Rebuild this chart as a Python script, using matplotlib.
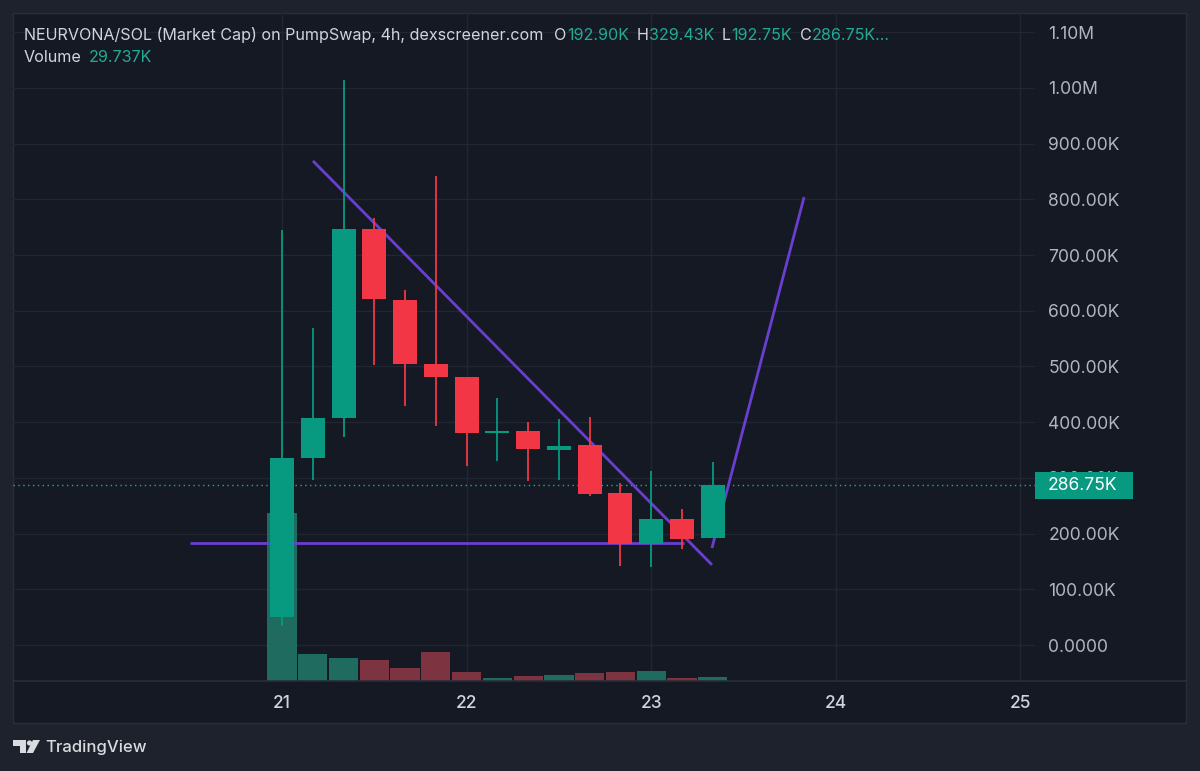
import numpy as np
import matplotlib
matplotlib.use("Agg")
import matplotlib.pyplot as plt
from matplotlib.patches import Rectangle, Polygon, Circle
from matplotlib.transforms import Affine2D, blended_transform_factory
from matplotlib.ticker import FuncFormatter

plt.rcParams["font.family"] = ["Inter", "DejaVu Sans"]

# 4h candles, market cap in K, first bar at day 21 00:00
first_day = 21
bar_hours = 4
opens = [50, 335, 407, 747, 620, 505, 481, 381, 385, 350, 359, 273, 181, 226, 192.90]
highs = [745, 570, 1015, 767, 637, 842, 482, 443, 400, 405, 410, 291, 312, 244, 329.43]
lows = [35, 296, 373, 503, 429, 393, 321, 330, 294, 296, 268, 142, 140, 172, 192.75]
closes = [335, 407, 747, 621, 505, 481, 381, 385, 352, 357, 271, 181, 226, 190, 286.75]
volumes = [1236, 200, 170, 155, 96, 215, 67, 22, 37, 44, 59, 67, 74, 22, 29.737]

# hand drawn lines (day, market cap K)
support_x = [20.502, 23.18]
support_y = [183, 183]
down_x = [21.168, 23.329]
down_y = [869, 144]
up_x = [23.329, 23.828]
up_y = [174, 804]

day_ticks = [21, 22, 23, 24, 25]
price_ticks = np.arange(0, 1200, 100)

BG_OUT = "#1e222d"
BG_PANE = "#151924"
GRID = "#222631"
BORDER = "#2a2e39"
TXT = "#d1d4dc"
AXTXT = "#b2b5be"
UP = "#089981"
DOWN = "#f23645"
UP_TXT = "#22ab94"
VOL_UP = "#1f6b60"
VOL_DOWN = "#7d3340"
LINE = "#6a3fd0"

W, H = 1200, 771
fig = plt.figure(figsize=(W / 100, H / 100), dpi=100)
fig.patch.set_facecolor(BG_OUT)
px = Affine2D().scale(1 / W, -1 / H).translate(0, 1) + fig.transFigure

# chart pane
fig.add_artist(Rectangle((13, 13), 1173, 710, transform=px, fc=BG_PANE, ec=BORDER, lw=1, zorder=0))
fig.add_artist(plt.Line2D([13, 1186], [681, 681], transform=px, color=BORDER, lw=1.2, zorder=1))

left, right, top, bottom = 13, 1035, 13, 681
ax = fig.add_axes([left / W, 1 - bottom / H, (right - left) / W, (bottom - top) / H])
ax.set_facecolor("none")
for s in ax.spines.values():
    s.set_visible(False)

ax.set_xlim(19.543, 25.079)
ylo, yhi = -64.6, 1134.6
ax.set_ylim(ylo, yhi)

t = first_day + np.arange(len(opens)) * bar_hours / 24
o, h, l, c = map(np.array, (opens, highs, lows, closes))
up = c >= o
col = np.where(up, UP, DOWN)
vcol = np.where(up, VOL_UP, VOL_DOWN)

# volume overlay in the bottom quarter of the pane
vol_k = (yhi - ylo) * (168 / 668) / max(volumes)
ax.bar(t, np.array(volumes) * vol_k, bottom=ylo, width=0.95 / 6, color=vcol, zorder=2)

ax.plot(support_x, support_y, color=LINE, lw=2, zorder=3, solid_capstyle="butt")
ax.plot(down_x, down_y, color=LINE, lw=2, zorder=3, solid_capstyle="butt")
ax.plot(up_x, up_y, color=LINE, lw=2, zorder=3, solid_capstyle="butt")

ax.vlines(t, l, h, colors=col, lw=1.3, zorder=4)
ax.bar(t, c - o, bottom=o, width=0.78 / 6, color=col, zorder=5)

last = closes[-1]
ax.axhline(last, color=UP_TXT, lw=1, ls=(0, (1, 2.5)), zorder=1)

ax.set_xticks(day_ticks)
ax.set_xticklabels([str(d) for d in day_ticks])
ax.set_yticks(price_ticks)


def fmt(v, pos):
    if v == 0:
        return "0.0000"
    if v >= 1000:
        return f"{v / 1000:.2f}M"
    return f"{v:.2f}K"


ax.yaxis.set_major_formatter(FuncFormatter(fmt))
ax.yaxis.tick_right()
ax.tick_params(axis="y", length=0, pad=9.5, labelsize=12.6, labelcolor=AXTXT)
ax.tick_params(axis="x", length=0, pad=10, labelsize=12.5, labelcolor=TXT)
for lab in ax.get_xticklabels():
    lab.set_fontweight("medium")
ax.grid(True, color=GRID, lw=1, zorder=0)
ax.set_axisbelow(True)

# last price label, sitting over the 300K tick like in TradingView
bt = blended_transform_factory(ax.transAxes, ax.transData)
ax.add_patch(Rectangle((1.0, last - 24.2), 98 / 1022, 48.4, transform=bt, fc=UP, ec="none",
                       clip_on=False, zorder=6))
ax.text(1 + 13 / 1022, last, f"{last:.2f}K", transform=bt, va="center", ha="left", color="white",
        fontsize=12.6, clip_on=False, zorder=7)

# header rows
fig.canvas.draw()
renderer = fig.canvas.get_renderer()


def header_row(parts, x, y):
    for text, color, gap in parts:
        x += gap
        tx = fig.text(x, y, text, transform=px, color=color, fontsize=11.6, va="baseline", ha="left")
        x += tx.get_window_extent(renderer).width


header_row([
    ("NEURVONA/SOL (Market Cap) on PumpSwap, 4h, dexscreener.com", TXT, 0),
    ("O", TXT, 11), (f"{opens[-1]:.2f}K", UP_TXT, 0),
    ("H", TXT, 8), (f"{highs[-1]:.2f}K", UP_TXT, 0),
    ("L", TXT, 8), (f"{lows[-1]:.2f}K", UP_TXT, 0),
    ("C", TXT, 8), (f"{closes[-1]:.2f}K...", UP_TXT, 0),
], 24, 40)
header_row([("Volume", TXT, 0), (f"{volumes[-1]:.3f}K", UP_TXT, 7)], 24, 62)

# footer logo
fig.add_artist(Polygon([(13, 740), (26, 740), (26, 753), (20, 753), (20, 746), (13, 746)],
                       closed=True, transform=px, fc="#d9dbe1", ec="none"))
fig.add_artist(Circle((29.5, 743), 2.6, transform=px, fc="#d9dbe1", ec="none"))
fig.add_artist(Polygon([(33, 740), (40, 740), (33, 753), (26.5, 753)],
                       closed=True, transform=px, fc="#d9dbe1", ec="none"))
fig.text(45, 747.5, "TradingView", transform=px, color="#d9dbe1", fontsize=12, va="center",
         ha="left", fontweight="medium")

fig.savefig("out.png", dpi=100, facecolor=BG_OUT)
